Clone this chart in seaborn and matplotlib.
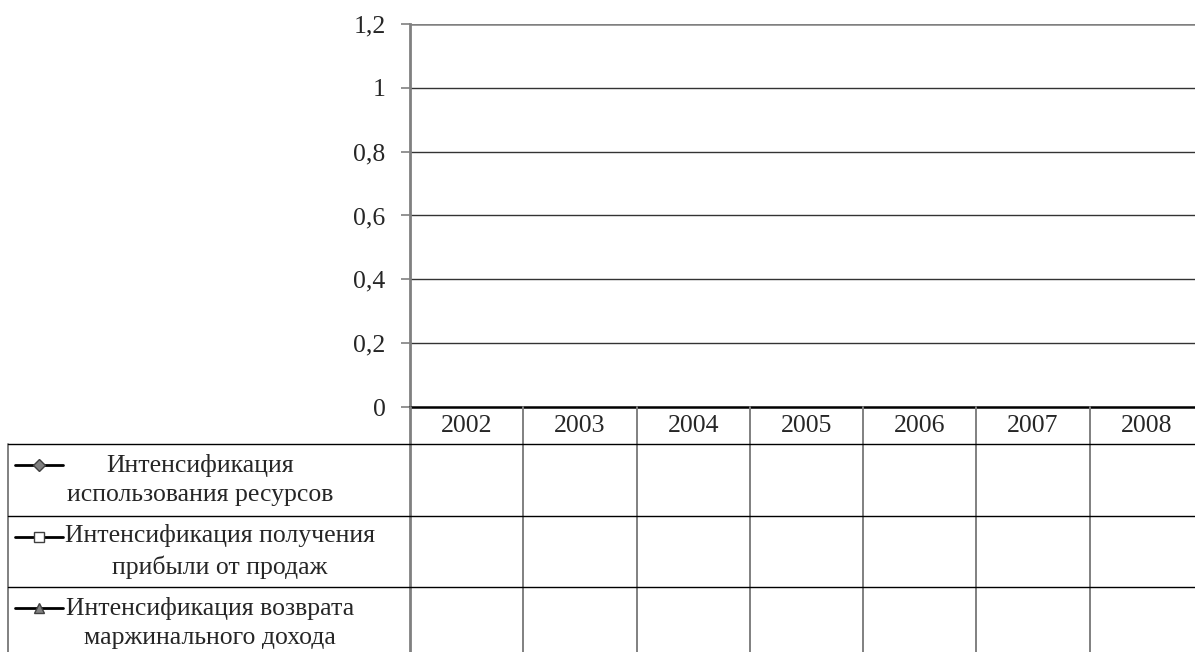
import numpy as np
import pandas as pd
import matplotlib
matplotlib.use("Agg")
import matplotlib.pyplot as plt
import matplotlib.transforms as mtransforms
from matplotlib.lines import Line2D
import seaborn as sns

# chart data: the source data table has no values filled in
years = ["2002", "2003", "2004", "2005", "2006", "2007", "2008"]
series_names = [
    "Интенсификация\nиспользования ресурсов",
    "Интенсификация получения\nприбыли от продаж",
    "Интенсификация возврата\nмаржинального дохода",
]
resources_vals = [None, None, None, None, None, None, None]
profit_vals = [None, None, None, None, None, None, None]
margin_vals = [None, None, None, None, None, None, None]
y_ticks = [0, 0.2, 0.4, 0.6, 0.8, 1.0, 1.2]
y_tick_labels = ["0", "0,2", "0,4", "0,6", "0,8", "1", "1,2"]

markers = ["D", "s", "^"]
marker_faces = ["#808080", "white", "#808080"]

W, H = 1195, 652

sns.set_style("white")
plt.rcParams["font.family"] = ["Liberation Serif", "DejaVu Serif"]
plt.rcParams["font.size"] = 18.5

df = pd.DataFrame({
    "x": np.tile(np.arange(len(years)), len(series_names)),
    "value": np.array(resources_vals + profit_vals + margin_vals, dtype=float),
    "series": np.repeat(series_names, len(years)),
})

fig = plt.figure(figsize=(W / 100, H / 100), dpi=100)
# plot area: x 410..1203 px (right edge cut off by the image), y 24..407 px
ax = fig.add_axes([410 / W, 1 - 407 / H, 793 / W, 383 / H])

sns.lineplot(data=df, x="x", y="value", hue="series", style="series",
             markers=markers, dashes=False, palette=["black"] * 3,
             legend=False, ax=ax)

ax.set_xlim(-0.5, len(years) - 0.5)
ax.set_ylim(y_ticks[0], y_ticks[-1])
ax.set_yticks(y_ticks)
ax.set_yticklabels(y_tick_labels)
ax.set_xticks([])
ax.set_xlabel("")
ax.set_ylabel("")
ax.tick_params(axis="y", left=True, length=6.5, width=1.2, color="#808080",
               pad=11, labelsize=18.5)

for t in y_ticks[1:]:
    ax.axhline(t, color="#333333" if t < 1.1 else "#808080",
               lw=1.0 if t < 1.1 else 1.8, zorder=0)

for side in ["top", "right"]:
    ax.spines[side].set_visible(False)
ax.spines["left"].set_color("#808080")
ax.spines["left"].set_linewidth(2)
ax.spines["bottom"].set_color("black")
ax.spines["bottom"].set_linewidth(1.8)

# pixel coordinates with origin at top-left of the figure
px = mtransforms.Affine2D().scale(1 / W, -1 / H).translate(0, 1) + fig.transFigure
col_px = mtransforms.blended_transform_factory(ax.transData, px)

row_edges = [407, 444, 516, 587, 660]
label_left = 8

# vertical lines of the data table
for i in range(len(years) + 1):
    fig.add_artist(Line2D([i - 0.5, i - 0.5], [row_edges[0], row_edges[-1]],
                          transform=col_px, color="#808080", lw=2 if i == 0 else 1.4))
fig.add_artist(Line2D([label_left, label_left], [row_edges[1], row_edges[-1]],
                      transform=px, color="#808080", lw=1.4))
# horizontal lines
for y in row_edges[1:-1]:
    fig.add_artist(Line2D([label_left, W + 20], [y, y], transform=px,
                          color="black", lw=1.0))

# year header
for i, yr in enumerate(years):
    fig.text(i, (row_edges[0] + row_edges[1]) / 2, yr, transform=col_px,
             ha="center", va="center", fontsize=18.5)

# row labels with legend keys
label_centers = [200, 220, 210]
for k, name in enumerate(series_names):
    top, bot = row_edges[k + 1], row_edges[k + 2]
    yc = (top + min(bot, 659)) / 2
    fig.text(label_centers[k], yc, name, transform=px, ha="center", va="center",
             multialignment="center", fontsize=18.5, linespacing=1.45)
    key_y = yc - 15
    fig.add_artist(Line2D([15, 63], [key_y, key_y], transform=px, color="black", lw=2))
    fig.add_artist(Line2D([39], [key_y], transform=px, marker=markers[k],
                          markersize=7.5 if markers[k] != "D" else 6.5,
                          markerfacecolor=marker_faces[k],
                          markeredgecolor="#404040", markeredgewidth=1, lw=0))

fig.savefig("out.png", dpi=100)
